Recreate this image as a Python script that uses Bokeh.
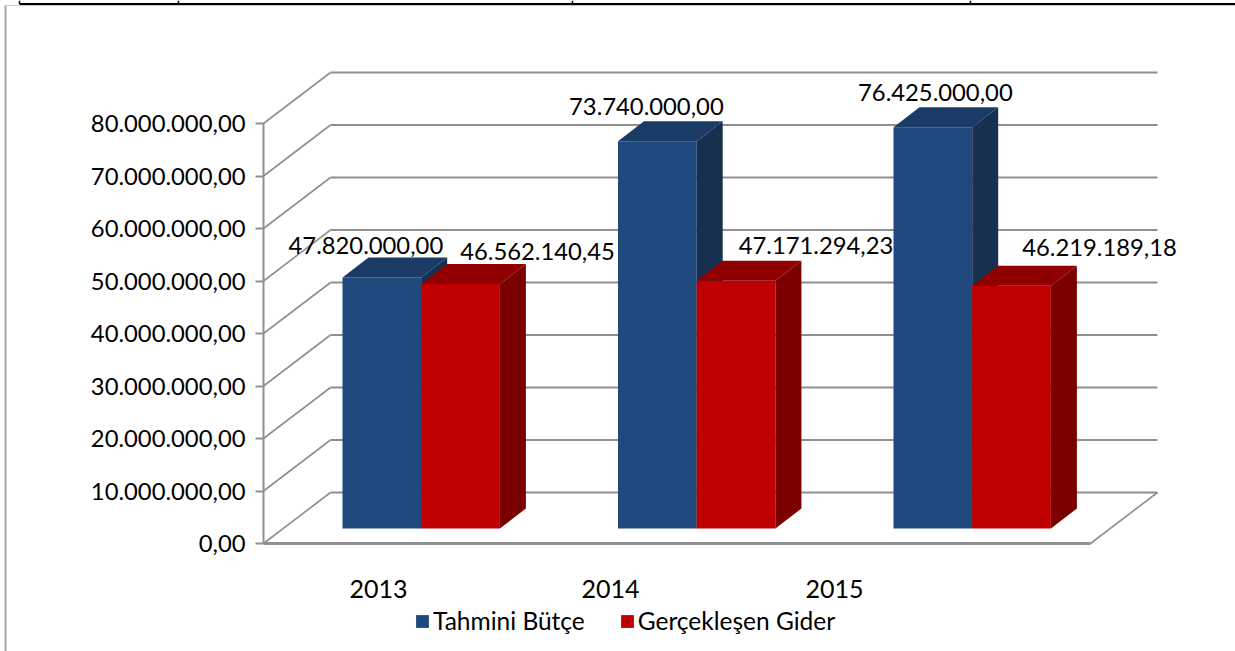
from bokeh.plotting import figure
from bokeh.models import Range1d, LinearAxis, FixedTicker, Legend, LegendItem, ColumnDataSource
from bokeh.core.properties import value
from bokeh.embed import file_html
from bokeh.resources import INLINE

years = ["2013", "2014", "2015"]
budget = [47820000.00, 73740000.00, 76425000.00]
actual = [46562140.45, 47171294.23, 46219189.18]
budget_labels = ["47.820.000,00", "73.740.000,00", "76.425.000,00"]
actual_labels = ["46.562.140,45", "47.171.294,23", "46.219.189,18"]
y_ticks = [0, 10000000, 20000000, 30000000, 40000000, 50000000, 60000000, 70000000, 80000000]
y_tick_labels = ["0,00", "10.000.000,00", "20.000.000,00", "30.000.000,00", "40.000.000,00",
                 "50.000.000,00", "60.000.000,00", "70.000.000,00", "80.000.000,00"]

W, H = 1235, 651
AXIS_X, AXIS_Y = 263, 543
PX = 5.25e-6                 # pixels per currency unit
WALL_DX, WALL_DY = 67, 51
FLOOR_W = 827
BAR_DX, BAR_DY = 26, 20
BAR_W = 78.7
BAR_START, BAR_STEP = 342, 275.5
BAR_BASE = 15 / PX
TICK_X = [378, 610, 834]
FONT = "Lato"
GREY = "#8f8f8f"

def v(px):
    return px / PX

p = figure(width=W, height=H, output_backend="svg", toolbar_location=None,
           x_axis_type=None, y_axis_type=None,
           x_range=Range1d(0, W),
           y_range=Range1d(-(H - AXIS_Y) / 5.25e-6, AXIS_Y / 5.25e-6),
           min_border=0)
p.outline_line_color = None
p.grid.visible = False
p.background_fill_color = "white"

# page frame
p.line([5, 5], [v(-108), v(538)], line_color="#a6a6a6", line_width=2)
p.line([5, W], [v(538), v(538)], line_color="#c8c8c8", line_width=1)
p.line([19, W], [v(539.5), v(539.5)], line_color="black", line_width=2)
for fx in [19, 178, 572, 970]:
    p.line([fx, fx], [v(539.5), v(543)], line_color="black", line_width=1.5)

# walls and floor
for t in y_ticks:
    p.line([AXIS_X, AXIS_X + WALL_DX], [t, t + v(WALL_DY)], line_color=GREY, line_width=1.6)
    p.line([AXIS_X + WALL_DX, AXIS_X + WALL_DX + FLOOR_W], [t + v(WALL_DY)] * 2,
           line_color=GREY, line_width=2)
p.line([AXIS_X + FLOOR_W, AXIS_X + FLOOR_W + WALL_DX - 0], [0, v(WALL_DY)], line_color=GREY, line_width=1.6)

def draw_series(vals, slot, front, top, side):
    x0 = [BAR_START + i * BAR_STEP + slot * BAR_W for i in range(len(vals))]
    x1 = [a + BAR_W for a in x0]
    y1 = [a + BAR_BASE for a in vals]
    r = p.vbar(x=[(a + b) / 2 for a, b in zip(x0, x1)], width=BAR_W, bottom=BAR_BASE, top=y1,
               fill_color=front, line_color=None)
    dy = v(BAR_DY)
    p.patches([[b, b + BAR_DX, b + BAR_DX, b] for b in x1],
              [[BAR_BASE, BAR_BASE + dy, t + dy, t] for t in y1],
              fill_color=side, line_color=None)
    p.patches([[a, a + BAR_DX, b + BAR_DX, b] for a, b in zip(x0, x1)],
              [[t, t + dy, t + dy, t] for t in y1],
              fill_color=top, line_color=None)
    return r, x0, y1

r1, bx, by = draw_series(budget, 0, "#1F497D", "#1A3B66", "#17304F")
r2, ax, ay = draw_series(actual, 1, "#C00000", "#900000", "#7B0000")

# data labels, nudged off the bar tops
lab_dx = [-16, -11, 2.5, 77, 80, 88]
lab_dy = [32, 35, 35, 33, 35, 38]
src = ColumnDataSource(dict(
    x=[a + BAR_W / 2 for a in bx] + [a + BAR_W / 2 for a in ax],
    y=by + ay,
    t=budget_labels + actual_labels,
    dx=lab_dx,
    dy=[-d for d in lab_dy]))
p.text(x="x", y="y", text="t", x_offset="dx", y_offset="dy", source=src,
       text_font=value(FONT), text_font_size="23.8px", text_color="black",
       text_align="center", text_baseline="middle")

yaxis = LinearAxis(fixed_location=AXIS_X, ticker=FixedTicker(ticks=y_ticks),
                   major_label_overrides=dict(zip(y_ticks, y_tick_labels)))
yaxis.bounds = (0, 80000000)
yaxis.axis_line_color = GREY
yaxis.axis_line_width = 2
yaxis.major_tick_line_color = GREY
yaxis.major_tick_line_width = 2
yaxis.major_tick_out = 8
yaxis.major_tick_in = 0
yaxis.minor_tick_line_color = None
yaxis.major_label_text_font = FONT
yaxis.major_label_text_font_size = "23.8px"
yaxis.major_label_text_color = "black"
yaxis.major_label_standoff = 10
p.add_layout(yaxis, "left")

xaxis = LinearAxis(fixed_location=0, ticker=FixedTicker(ticks=TICK_X),
                   major_label_overrides=dict(zip(TICK_X, years)))
xaxis.bounds = (AXIS_X, AXIS_X + FLOOR_W)
xaxis.axis_line_color = GREY
xaxis.axis_line_width = 3
xaxis.major_tick_line_color = None
xaxis.minor_tick_line_color = None
xaxis.major_label_text_font = FONT
xaxis.major_label_text_font_size = "25px"
xaxis.major_label_text_color = "black"
xaxis.major_label_standoff = 30
p.add_layout(xaxis, "below")

legend = Legend(items=[LegendItem(label="Tahmini Bütçe", renderers=[r1]),
                       LegendItem(label="Gerçekleşen Gider", renderers=[r2])],
                location=(414, 16), orientation="horizontal",
                background_fill_alpha=0, border_line_color=None,
                glyph_width=16, glyph_height=16, label_standoff=3, spacing=34,
                label_text_font=FONT, label_text_font_size="24.5px", label_text_color="black",
                padding=0, margin=0)
p.add_layout(legend, "center")

open("out.html", "w").write(file_html(p, INLINE))
